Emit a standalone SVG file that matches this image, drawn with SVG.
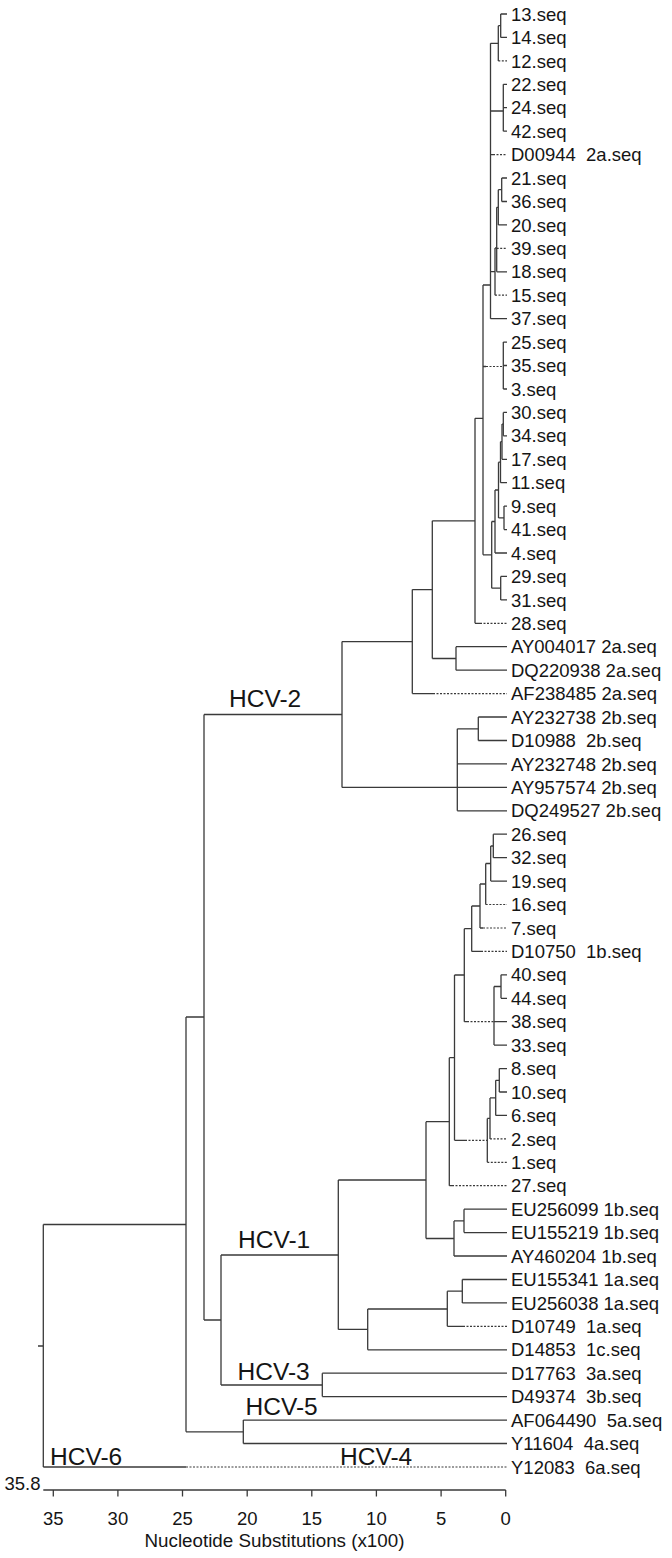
<svg xmlns="http://www.w3.org/2000/svg" width="672" height="1558" viewBox="0 0 672 1558">
<style>
.br{fill:none;stroke:#3a3a3a;stroke-width:1.3}
.ds{fill:none;stroke:#3a3a3a;stroke-width:1.2;stroke-dasharray:2 1.5}
.lf{font-family:"Liberation Sans",Arial,sans-serif;font-size:18.5px;fill:#151515;white-space:pre}
.cl{font-family:"Liberation Sans",Arial,sans-serif;font-size:24.5px;fill:#151515}
.ax{font-family:"Liberation Sans",Arial,sans-serif;font-size:18.5px;fill:#151515}
</style>
<rect width="672" height="1558" fill="#fff"/>
<g id="connectors">
<path class="br" d="M500.7 14V37.4M500.7 14H507M500.7 37.4H507"/>
<path class="br" d="M498.3 25.7V60.9M498.3 25.7H500.7"/>
<path class="ds" d="M498.3 60.9H507"/>
<path class="br" d="M503.3 84.3V131.2M503.3 84.3H507M503.3 107.7H507M503.3 131.2H507"/>
<path class="br" d="M501.7 178V201.5M501.7 178H507M501.7 201.5H507"/>
<path class="br" d="M498.3 189.7V224.9M498.3 189.7H501.7M498.3 224.9H507"/>
<path class="br" d="M496.7 207.3V271.8M496.7 207.3H498.3M496.7 271.8H507"/>
<path class="ds" d="M496.7 248.4H507"/>
<path class="br" d="M495 248V295.2M495 248H496.7"/>
<path class="ds" d="M495 295.2H507"/>
<path class="br" d="M490.5 43.3V318.7M490.5 43.3H498.3M490.5 111H503.3M490.5 154.6H493M490.5 271.6H495M490.5 318.7H507"/>
<path class="ds" d="M493 154.6H507"/>
<path class="br" d="M503.3 342.1V389M503.3 342.1H507M503.3 365.5H507M503.3 389H507"/>
<path class="br" d="M503.3 412.4V435.8M503.3 412.4H507M503.3 435.8H507"/>
<path class="br" d="M502 424.1V459.3M502 424.1H503.3M502 459.3H507"/>
<path class="br" d="M500.5 441.7V482.7M500.5 441.7H502M500.5 482.7H507"/>
<path class="br" d="M504 506.1V529.6M504 506.1H507M504 529.6H507"/>
<path class="br" d="M498.5 462.2V517.9M498.5 462.2H500.5M498.5 517.9H504"/>
<path class="br" d="M495 490V553M495 490H498.5M495 553H507"/>
<path class="br" d="M500.7 576.4V599.9M500.7 576.4H507M500.7 599.9H507"/>
<path class="br" d="M491.7 521.5V588.2M491.7 521.5H495M491.7 588.2H500.7"/>
<path class="br" d="M483 285V554.8M483 285H490.5M483 366.5H486M483 554.8H491.7"/>
<path class="ds" d="M486 366.5H503.3"/>
<path class="br" d="M475 418.3V623.3M475 418.3H483M475 623.3H480"/>
<path class="ds" d="M480 623.3H507"/>
<path class="br" d="M456 646.7V670.2M456 646.7H507M456 670.2H507"/>
<path class="br" d="M432.3 520.8V658.5M432.3 520.8H475M432.3 658.5H456"/>
<path class="br" d="M412.3 589.6V693.6M412.3 589.6H432.3M412.3 693.6H433"/>
<path class="ds" d="M433 693.6H507"/>
<path class="br" d="M478.3 717V740.5M478.3 717H507M478.3 740.5H507"/>
<path class="br" d="M457.3 728.8V810.8M457.3 728.8H478.3M457.3 763.9H507M457.3 787.4H507M457.3 810.8H507"/>
<path class="br" d="M342 641.6V787.4M342 641.6H412.3M342 787.4H457.3"/>
<path class="br" d="M204 714.5H342"/>
<path class="br" d="M493.3 834.2V857.7M493.3 834.2H507M493.3 857.7H507"/>
<path class="br" d="M490.7 846V881.1M490.7 846H493.3M490.7 881.1H507"/>
<path class="br" d="M485.7 863.5V904.5M485.7 863.5H490.7"/>
<path class="ds" d="M485.7 904.5H507"/>
<path class="br" d="M480 884V928M480 884H485.7M480 928H483"/>
<path class="ds" d="M483 928H507"/>
<path class="br" d="M471.7 906V951.4M471.7 906H480M471.7 951.4H481"/>
<path class="ds" d="M481 951.4H507"/>
<path class="br" d="M501 974.8V998.3M501 974.8H507M501 998.3H507"/>
<path class="br" d="M494 986.5V1045.1M494 986.5H501M494 1021.7H507M494 1045.1H507"/>
<path class="br" d="M464.3 928.7V1021.7M464.3 928.7H471.7M464.3 1021.7H467"/>
<path class="ds" d="M467 1021.7H494"/>
<path class="br" d="M499.3 1068.6V1092M499.3 1068.6H507M499.3 1092H507"/>
<path class="br" d="M495.7 1080.3V1115.4M495.7 1080.3H499.3M495.7 1115.4H507"/>
<path class="br" d="M490 1097.9V1138.9M490 1097.9H495.7"/>
<path class="ds" d="M490 1138.9H507"/>
<path class="br" d="M487.3 1118.4V1162.3M487.3 1118.4H490"/>
<path class="ds" d="M487.3 1162.3H507"/>
<path class="br" d="M454.5 975V1140.3M454.5 975H464.3M454.5 1140.3H465"/>
<path class="ds" d="M465 1140.3H487.3"/>
<path class="br" d="M449.3 1057.7V1185.7M449.3 1057.7H454.5M449.3 1185.7H452"/>
<path class="ds" d="M452 1185.7H507"/>
<path class="br" d="M464 1209.2V1232.6M464 1209.2H507M464 1232.6H507"/>
<path class="br" d="M454 1220.9V1256M454 1220.9H464M454 1256H507"/>
<path class="br" d="M426 1121.7V1238.5M426 1121.7H449.3M426 1238.5H454"/>
<path class="br" d="M462.3 1279.5V1302.9M462.3 1279.5H507M462.3 1302.9H507"/>
<path class="br" d="M447.3 1291.2V1326.3M447.3 1291.2H462.3M447.3 1326.3H463"/>
<path class="ds" d="M463 1326.3H507"/>
<path class="br" d="M367.7 1309V1349.8M367.7 1309H447.3M367.7 1349.8H507"/>
<path class="br" d="M338.3 1180V1329.4M338.3 1180H426M338.3 1329.4H367.7"/>
<path class="br" d="M221 1255V1385M221 1255H338.3M221 1385H322.3"/>
<path class="br" d="M322.3 1373.2V1396.6M322.3 1373.2H507M322.3 1396.6H507"/>
<path class="br" d="M243.3 1420.1V1443.5M243.3 1420.1H507M243.3 1443.5H507"/>
<path class="br" d="M204 714.5V1320M204 1320H221"/>
<path class="br" d="M186 1017V1431.8M186 1017H204M186 1431.8H243.3"/>
<path class="br" d="M43.3 1224.5V1467M43.3 1224.5H186M38 1346H43.3M43.3 1467H186"/>
<path class="ds" d="M186 1467H507"/>
</g>
<g id="leaves">
<g id="n13"><text class="lf" x="511" y="20.6">13.seq</text></g>
<g id="n14"><text class="lf" x="511" y="44">14.seq</text></g>
<g id="n12"><text class="lf" x="511" y="67.5">12.seq</text></g>
<g id="n22"><text class="lf" x="511" y="90.9">22.seq</text></g>
<g id="n24"><text class="lf" x="511" y="114.3">24.seq</text></g>
<g id="n42"><text class="lf" x="511" y="137.8">42.seq</text></g>
<g id="nD00944"><text class="lf" x="511" y="161.2">D00944&#160; 2a.seq</text></g>
<g id="n21"><text class="lf" x="511" y="184.6">21.seq</text></g>
<g id="n36"><text class="lf" x="511" y="208.1">36.seq</text></g>
<g id="n20"><text class="lf" x="511" y="231.5">20.seq</text></g>
<g id="n39"><text class="lf" x="511" y="255">39.seq</text></g>
<g id="n18"><text class="lf" x="511" y="278.4">18.seq</text></g>
<g id="n15"><text class="lf" x="511" y="301.8">15.seq</text></g>
<g id="n37"><text class="lf" x="511" y="325.3">37.seq</text></g>
<g id="n25"><text class="lf" x="511" y="348.7">25.seq</text></g>
<g id="n35"><text class="lf" x="511" y="372.1">35.seq</text></g>
<g id="n3"><text class="lf" x="511" y="395.6">3.seq</text></g>
<g id="n30"><text class="lf" x="511" y="419">30.seq</text></g>
<g id="n34"><text class="lf" x="511" y="442.4">34.seq</text></g>
<g id="n17"><text class="lf" x="511" y="465.9">17.seq</text></g>
<g id="n11"><text class="lf" x="511" y="489.3">11.seq</text></g>
<g id="n9"><text class="lf" x="511" y="512.7">9.seq</text></g>
<g id="n41"><text class="lf" x="511" y="536.2">41.seq</text></g>
<g id="n4"><text class="lf" x="511" y="559.6">4.seq</text></g>
<g id="n29"><text class="lf" x="511" y="583">29.seq</text></g>
<g id="n31"><text class="lf" x="511" y="606.5">31.seq</text></g>
<g id="n28"><text class="lf" x="511" y="629.9">28.seq</text></g>
<g id="nAY004017"><text class="lf" x="511" y="653.3">AY004017 2a.seq</text></g>
<g id="nDQ220938"><text class="lf" x="511" y="676.8">DQ220938 2a.seq</text></g>
<g id="nAF238485"><text class="lf" x="511" y="700.2">AF238485 2a.seq</text></g>
<g id="nAY232738"><text class="lf" x="511" y="723.6">AY232738 2b.seq</text></g>
<g id="nD10988"><text class="lf" x="511" y="747.1">D10988&#160; 2b.seq</text></g>
<g id="nAY232748"><text class="lf" x="511" y="770.5">AY232748 2b.seq</text></g>
<g id="nAY957574"><text class="lf" x="511" y="794">AY957574 2b.seq</text></g>
<g id="nDQ249527"><text class="lf" x="511" y="817.4">DQ249527 2b.seq</text></g>
<g id="n26"><text class="lf" x="511" y="840.8">26.seq</text></g>
<g id="n32"><text class="lf" x="511" y="864.3">32.seq</text></g>
<g id="n19"><text class="lf" x="511" y="887.7">19.seq</text></g>
<g id="n16"><text class="lf" x="511" y="911.1">16.seq</text></g>
<g id="n7"><text class="lf" x="511" y="934.6">7.seq</text></g>
<g id="nD10750"><text class="lf" x="511" y="958">D10750&#160; 1b.seq</text></g>
<g id="n40"><text class="lf" x="511" y="981.4">40.seq</text></g>
<g id="n44"><text class="lf" x="511" y="1004.9">44.seq</text></g>
<g id="n38"><text class="lf" x="511" y="1028.3">38.seq</text></g>
<g id="n33"><text class="lf" x="511" y="1051.7">33.seq</text></g>
<g id="n8"><text class="lf" x="511" y="1075.2">8.seq</text></g>
<g id="n10"><text class="lf" x="511" y="1098.6">10.seq</text></g>
<g id="n6"><text class="lf" x="511" y="1122">6.seq</text></g>
<g id="n2"><text class="lf" x="511" y="1145.5">2.seq</text></g>
<g id="n1"><text class="lf" x="511" y="1168.9">1.seq</text></g>
<g id="n27"><text class="lf" x="511" y="1192.3">27.seq</text></g>
<g id="nEU256099"><text class="lf" x="511" y="1215.8">EU256099 1b.seq</text></g>
<g id="nEU155219"><text class="lf" x="511" y="1239.2">EU155219 1b.seq</text></g>
<g id="nAY460204"><text class="lf" x="511" y="1262.6">AY460204 1b.seq</text></g>
<g id="nEU155341"><text class="lf" x="511" y="1286.1">EU155341 1a.seq</text></g>
<g id="nEU256038"><text class="lf" x="511" y="1309.5">EU256038 1a.seq</text></g>
<g id="nD10749"><text class="lf" x="511" y="1332.9">D10749&#160; 1a.seq</text></g>
<g id="nD14853"><text class="lf" x="511" y="1356.4">D14853&#160; 1c.seq</text></g>
<g id="nD17763"><text class="lf" x="511" y="1379.8">D17763&#160; 3a.seq</text></g>
<g id="nD49374"><text class="lf" x="511" y="1403.2">D49374&#160; 3b.seq</text></g>
<g id="nAF064490"><text class="lf" x="511" y="1426.7">AF064490&#160; 5a.seq</text></g>
<g id="nY11604"><text class="lf" x="511" y="1450.1">Y11604&#160; 4a.seq</text></g>
<g id="nY12083"><text class="lf" x="511" y="1473.6">Y12083&#160; 6a.seq</text></g>
</g>
<g id="clades">
<g id="hcv2"><text class="cl" x="229" y="706.5">HCV-2</text></g>
<g id="hcv1"><text class="cl" x="238" y="1248">HCV-1</text></g>
<g id="hcv3"><text class="cl" x="237.5" y="1380">HCV-3</text></g>
<g id="hcv5"><text class="cl" x="245.5" y="1415">HCV-5</text></g>
<g id="hcv4"><text class="cl" x="340" y="1464.5">HCV-4</text></g>
<g id="hcv6"><text class="cl" x="50" y="1464.5">HCV-6</text></g>
</g>
<g id="axis">
<path class="br" d="M43.3 1490H505.7M53.3 1490V1496.5M117.9 1490V1496.5M182.5 1490V1496.5M247.2 1490V1496.5M311.8 1490V1496.5M376.4 1490V1496.5M441.1 1490V1496.5M505.7 1490V1496.5"/>
<text class="ax" x="40.5" y="1490" text-anchor="end">35.8</text>
<text class="ax" x="53.3" y="1525" text-anchor="middle">35</text>
<text class="ax" x="117.9" y="1525" text-anchor="middle">30</text>
<text class="ax" x="182.5" y="1525" text-anchor="middle">25</text>
<text class="ax" x="247.2" y="1525" text-anchor="middle">20</text>
<text class="ax" x="311.8" y="1525" text-anchor="middle">15</text>
<text class="ax" x="376.4" y="1525" text-anchor="middle">10</text>
<text class="ax" x="441.1" y="1525" text-anchor="middle">5</text>
<text class="ax" x="505.7" y="1525" text-anchor="middle">0</text>
<text class="ax" x="274.5" y="1547" text-anchor="middle" style="font-size:18.8px">Nucleotide Substitutions (x100)</text>
</g>
</svg>
